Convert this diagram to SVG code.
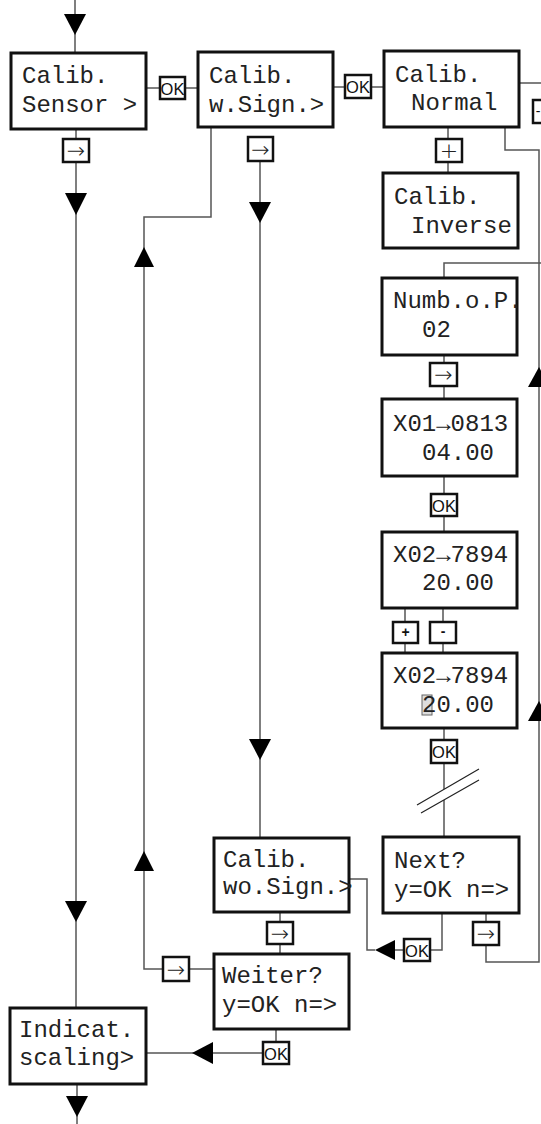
<svg xmlns="http://www.w3.org/2000/svg" width="541" height="1124" viewBox="0 0 541 1124">
  <style>
    .box { fill: #fff; stroke: #111; stroke-width: 3; }
    .btn { fill: #fff; stroke: #111; stroke-width: 2.5; }
    .line { fill: none; stroke: #555; stroke-width: 1.5; }
    .head { fill: #000; }
    .lcd { font-family: "Liberation Mono", "Courier New", monospace; font-size: 24px; fill: #222; }
    .ok { font-family: "Liberation Sans", Arial, sans-serif; font-size: 16.5px; fill: #111; text-anchor: middle; }
    .sym { font-family: "DejaVu Sans", sans-serif; font-weight: 200; font-size: 22px; fill: #222; text-anchor: middle; }
    .small { font-family: "Liberation Sans", Arial, sans-serif; font-size: 14px; font-weight: bold; fill: #111; text-anchor: middle; }
  </style>

  <!-- connectors -->
  <g id="connectors">
    <path class="line" d="M75,0 V53"/>
    <path class="line" d="M76,129 V139 M76,162 V1008"/>
    <path class="line" d="M146,88 H160 M185,88 H198"/>
    <path class="line" d="M333,87 H345 M371,87 H384"/>
    <path class="line" d="M519,83 H541"/>
    <path class="line" d="M448,127 V139 M448,162 V173"/>
    <path class="line" d="M505,127 V150 H539 V962 H486 V945 M486,913 V922"/>
    <path class="line" d="M444,278 V263 H541"/>
    <path class="line" d="M444,355 V363 M444,386 V399"/>
    <path class="line" d="M444,476 V494 M444,516 V532"/>
    <path class="line" d="M405,608 V622 M405,643 V653 M443,608 V622 M443,643 V653"/>
    <path class="line" d="M444,728 V740 M444,763 V789 M444,800 V837"/>
    <path d="M417,805 L479,769 M421,813 L479,780" fill="none" stroke="#222" stroke-width="1.2"/>
    <path class="line" d="M442,913 V950 H430 M404,950 H395 M375,950 H367 V879 H349"/>
    <path class="line" d="M260,161 V838"/>
    <path class="line" d="M211,127 V217 H144 V969 H163 M189,969 H214"/>
    <path class="line" d="M280,912 V922 M280,944 V954"/>
    <path class="line" d="M276,1029 V1042 M263,1053 H146"/>
    <path class="line" d="M77,1084 V1124"/>

    <!-- arrowheads -->
    <polygon class="head" points="64,14 86,14 75,35"/>
    <polygon class="head" points="65,193 87,193 76,215"/>
    <polygon class="head" points="65,901 87,901 76,922"/>
    <polygon class="head" points="66,1096 88,1096 77,1117"/>
    <polygon class="head" points="249,202 271,202 260,223"/>
    <polygon class="head" points="249,739 271,739 260,760"/>
    <polygon class="head" points="134,267 154,267 144,247"/>
    <polygon class="head" points="134,871 154,871 144,851"/>
    <polygon class="head" points="528,387 550,387 539,367"/>
    <polygon class="head" points="528,721 550,721 539,701"/>
    <polygon class="head" points="375,950 395,940 395,960"/>
    <polygon class="head" points="192,1053 213,1042 213,1064"/>
  </g>

  <!-- buttons -->
  <g id="btn-ok-1"><rect class="btn" x="160" y="77" width="25" height="22"/><text class="ok" x="172.5" y="94.5">OK</text></g>
  <g id="btn-ok-2"><rect class="btn" x="345" y="75" width="26" height="23"/><text class="ok" x="358" y="92.5">OK</text></g>
  <g id="btn-next-sensor"><rect class="btn" x="63" y="139" width="26" height="23"/><text class="sym" x="76" y="158">→</text></g>
  <g id="btn-next-wsign"><rect class="btn" x="248" y="137" width="25" height="24"/><text class="sym" x="260.5" y="156.5">→</text></g>
  <g id="btn-plus-normal"><rect class="btn" x="436" y="139" width="26" height="23"/><text class="sym" x="449" y="158">+</text></g>
  <g id="btn-minus-normal"><rect class="btn" x="533" y="100" width="26" height="23"/><text class="small" x="538" y="116" style="font-weight:normal">-</text></g>
  <g id="btn-next-numb"><rect class="btn" x="430" y="363" width="27" height="23"/><text class="sym" x="443.5" y="382">→</text></g>
  <g id="btn-ok-x01"><rect class="btn" x="431" y="494" width="26" height="22"/><text class="ok" x="444" y="511.5">OK</text></g>
  <g id="btn-plus-x02"><rect class="btn" x="393" y="622" width="25" height="21"/><text class="small" x="405.5" y="637">+</text></g>
  <g id="btn-minus-x02"><rect class="btn" x="430" y="622" width="26" height="21"/><text class="small" x="443" y="636">-</text></g>
  <g id="btn-ok-x02"><rect class="btn" x="431" y="740" width="26" height="23"/><text class="ok" x="444" y="757.5">OK</text></g>
  <g id="btn-ok-next"><rect class="btn" x="404" y="939" width="26" height="22"/><text class="ok" x="417" y="956.5">OK</text></g>
  <g id="btn-next-next"><rect class="btn" x="473" y="922" width="26" height="23"/><text class="sym" x="486" y="941">→</text></g>
  <g id="btn-next-wosign"><rect class="btn" x="267" y="922" width="26" height="22"/><text class="sym" x="280" y="940.5">→</text></g>
  <g id="btn-next-weiter"><rect class="btn" x="163" y="957" width="26" height="24"/><text class="sym" x="176" y="976.5">→</text></g>
  <g id="btn-ok-weiter"><rect class="btn" x="263" y="1042" width="26" height="22"/><text class="ok" x="276" y="1059.5">OK</text></g>

  <!-- display nodes -->
  <g id="node-calib-sensor">
    <rect class="box" x="11" y="53" width="135" height="76"/>
    <text class="lcd" x="22" y="83">Calib.</text>
    <text class="lcd" x="22" y="112">Sensor &gt;</text>
  </g>
  <g id="node-calib-wsign">
    <rect class="box" x="198" y="52" width="135" height="75"/>
    <text class="lcd" x="209" y="83">Calib.</text>
    <text class="lcd" x="209" y="112">w.Sign.&gt;</text>
  </g>
  <g id="node-calib-normal">
    <rect class="box" x="384" y="51" width="135" height="76"/>
    <text class="lcd" x="395" y="82">Calib.</text>
    <text class="lcd" x="411" y="110">Normal</text>
  </g>
  <g id="node-calib-inverse">
    <rect class="box" x="383" y="173" width="135" height="75"/>
    <text class="lcd" x="394" y="204">Calib.</text>
    <text class="lcd" x="411" y="233">Inverse</text>
  </g>
  <g id="node-numb">
    <rect class="box" x="382" y="278" width="135" height="77"/>
    <text class="lcd" x="393" y="308">Numb.o.P.</text>
    <text class="lcd" x="422" y="337">02</text>
  </g>
  <g id="node-x01">
    <rect class="box" x="382" y="399" width="135" height="77"/>
    <text class="lcd" x="393" y="431">X01→0813</text>
    <text class="lcd" x="422" y="460">04.00</text>
  </g>
  <g id="node-x02">
    <rect class="box" x="382" y="532" width="135" height="76"/>
    <text class="lcd" x="393" y="562">X02→7894</text>
    <text class="lcd" x="422" y="590">20.00</text>
  </g>
  <g id="node-x02-edit">
    <rect class="box" x="382" y="653" width="135" height="75"/>
    <text class="lcd" x="393" y="683">X02→7894</text>
    <rect x="422" y="695" width="10" height="20" fill="#ddd" stroke="#666" stroke-width="1"/>
    <text class="lcd" x="422" y="712">20.00</text>
  </g>
  <g id="node-next">
    <rect class="box" x="383" y="837" width="136" height="76"/>
    <text class="lcd" x="394" y="868">Next?</text>
    <text class="lcd" x="394" y="897">y=OK n=&gt;</text>
  </g>
  <g id="node-calib-wosign">
    <rect class="box" x="214" y="838" width="135" height="74"/>
    <text class="lcd" x="223" y="867">Calib.</text>
    <text class="lcd" x="223" y="894">wo.Sign.&gt;</text>
  </g>
  <g id="node-weiter">
    <rect class="box" x="214" y="954" width="135" height="75"/>
    <text class="lcd" x="222" y="983">Weiter?</text>
    <text class="lcd" x="222" y="1012">y=OK n=&gt;</text>
  </g>
  <g id="node-indicat">
    <rect class="box" x="10" y="1008" width="136" height="76"/>
    <text class="lcd" x="19" y="1037">Indicat.</text>
    <text class="lcd" x="19" y="1065">scaling&gt;</text>
  </g>
</svg>
